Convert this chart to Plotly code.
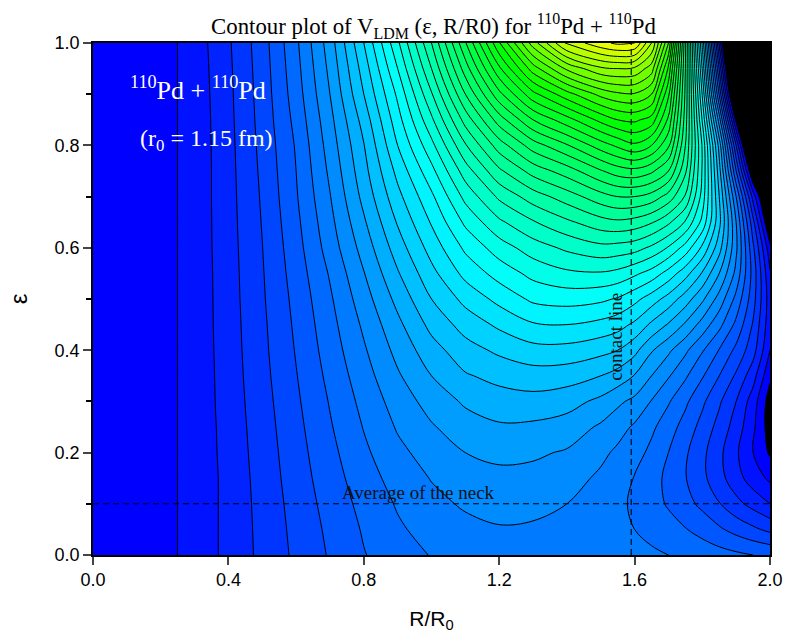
import plotly.graph_objects as go

ratio = [0, .1, .25, .37, .5, .6, .7, .8, .9, 1.0, 1.1, 1.2, 1.3, 1.4, 1.5, 1.55, 1.6, 1.65, 1.7, 1.75, 1.8, 1.85, 1.9, 1.95, 2.0]
epsilon = [0, .05, .1, .15, .2, .25, .3, .35, .4, .45, .5, .55, .6, .65, .7, .75, .8, .85, .9, .95, 1.0]

v_00 = [.2, .4, 1.001, 2.0, 3.25, 4.2, 5.1, 5.95, 6.55, 7.05, 7.3, 7.5, 7.55, 7.45, 7.4, 7.35, 7.3, 7.2, 7.0, 6.8, 6.6, 6.4, 6.2, 6.0, 5.85]
v_05 = [.2, .4, 1.001, 2.0, 3.28, 4.28, 5.22, 6.1, 6.85, 7.38, 7.72, 7.92, 7.85, 7.7, 7.45, 7.25, 7.0, 6.65, 6.35, 6.05, 5.65, 5.15, 4.65, 4.2, 3.75]
v_10 = [.2, .4, 1.001, 2.0, 3.32, 4.38, 5.38, 6.3, 7.1, 7.72, 8.13, 8.35, 8.3, 8.0, 7.55, 7.2, 6.85, 6.35, 5.9, 5.35, 4.75, 4.05, 3.3, 2.65, 2.0]
v_15 = [.2, .4, 1.001, 2.0, 3.38, 4.5, 5.55, 6.55, 7.4, 8.05, 8.52, 8.78, 8.7, 8.45, 7.8, 7.4, 6.95, 6.4, 5.75, 5.05, 4.25, 3.35, 2.4, 1.5, .8]
v_20 = [.2, .4, 1.001, 2.03, 3.45, 4.6, 5.72, 6.8, 7.75, 8.42, 9.0, 9.2, 9.15, 8.9, 8.25, 7.8, 7.4, 6.75, 6.0, 5.15, 4.25, 3.25, 2.15, 1.0, -.15]
v_25 = [.2, .4, 1.001, 2.05, 3.52, 4.71, 5.9, 7.05, 8.1, 8.9, 9.55, 9.87, 9.8, 9.55, 8.85, 8.4, 7.85, 7.2, 6.45, 5.6, 4.65, 3.65, 2.55, 1.2, -.5]
v_30 = [.2, .4, 1.001, 2.08, 3.6, 4.83, 6.07, 7.3, 8.45, 9.4, 10.15, 10.55, 10.65, 10.4, 9.75, 9.2, 8.75, 7.95, 7.1, 6.2, 5.2, 4.15, 3.0, 1.5, -.5]
v_35 = [.2, .4, 1.001, 2.1, 3.68, 4.95, 6.27, 7.58, 8.87, 10.0, 10.9, 11.3, 11.55, 11.45, 11.0, 10.6, 9.95, 9.0, 8.1, 7.15, 6.1, 5.0, 3.85, 2.4, .2]
v_40 = [.2, .4, 1.001, 2.12, 3.75, 5.07, 6.47, 7.87, 9.3, 10.6, 11.6, 12.2, 12.65, 12.65, 12.3, 12.0, 11.3, 10.1, 9.2, 8.2, 7.1, 5.95, 4.75, 3.4, 1.0]
v_45 = [.2, .4, 1.001, 2.14, 3.8, 5.18, 6.65, 8.18, 9.75, 11.3, 12.4, 13.2, 13.9, 14.0, 13.7, 13.4, 12.8, 11.8, 10.9, 9.85, 8.6, 7.3, 5.75, 3.9, 1.35]
v_50 = [.2, .4, 1.001, 2.15, 3.87, 5.3, 6.85, 8.55, 10.3, 12.0, 13.3, 14.3, 15.2, 15.4, 15.2, 14.9, 14.3, 13.5, 12.6, 11.5, 10.2, 8.6, 6.7, 4.4, 1.45]
v_55 = [.2, .4, 1.001, 2.16, 3.92, 5.45, 7.1, 8.95, 10.9, 12.7, 14.3, 15.4, 16.3, 16.8, 16.9, 16.7, 16.2, 15.6, 14.6, 13.4, 11.9, 10.0, 7.7, 4.6, 1.1]
v_60 = [.2, .4, 1.001, 2.18, 3.98, 5.6, 7.45, 9.4, 11.5, 13.4, 15.2, 16.5, 17.5, 18.2, 18.7, 18.6, 18.4, 17.8, 16.9, 15.6, 13.8, 11.4, 8.2, 4.2, .3]
v_65 = [.2, .4, 1.001, 2.19, 4.05, 5.75, 7.7, 9.85, 12.1, 14.1, 16.2, 17.8, 18.9, 19.8, 20.6, 20.8, 20.6, 20.1, 19.2, 17.9, 15.7, 12.3, 8.0, 3.3, -1.5]
v_70 = [.2, .4, 1.001, 2.2, 4.12, 5.9, 7.95, 10.3, 12.7, 14.8, 17.3, 19.2, 20.5, 21.5, 22.6, 23.0, 23.0, 22.6, 21.6, 19.9, 16.6, 12.0, 7.0, 1.6, -3]
v_75 = [.2, .4, 1.001, 2.2, 4.2, 6.0, 8.2, 10.65, 13.3, 15.7, 18.5, 20.8, 22.4, 23.5, 24.9, 25.5, 25.7, 25.2, 24.0, 21.2, 16.9, 11.4, 5.0, -1.5, -6]
v_80 = [.2, .4, 1.001, 2.21, 4.28, 6.1, 8.45, 10.95, 14.0, 16.7, 19.9, 22.5, 24.5, 25.9, 27.5, 28.2, 28.8, 28.0, 26.2, 22.0, 16.9, 10.6, 3.0, -5, -8]
v_85 = [.2, .4, 1.001, 2.23, 4.36, 6.3, 8.7, 11.4, 14.6, 17.8, 21.4, 24.5, 27.0, 28.6, 30.3, 31.0, 31.2, 30.6, 27.8, 22.5, 15.9, 8.5, -.4, -7, -10]
v_90 = [.2, .4, 1.001, 2.26, 4.42, 6.5, 9.0, 12.0, 15.2, 18.9, 23.0, 26.7, 29.7, 31.6, 33.3, 33.8, 33.9, 33.0, 29.2, 22.8, 14.9, 5.9, -4, -10, -12]
v_95 = [.2, .4, 1.001, 2.3, 4.48, 6.65, 9.25, 12.45, 16.0, 20.0, 24.5, 28.8, 32.5, 35.2, 36.8, 37.0, 36.8, 35.5, 30.8, 23.0, 13.9, 3.9, -6.5, -12, -14]
v_100 = [.2, .4, 1.001, 2.35, 4.55, 6.8, 9.5, 13.0, 16.8, 21.0, 25.9, 30.9, 35.5, 39.2, 40.7, 41.2, 41.0, 38.0, 33.0, 23.2, 12.8, 1.8, -9, -14, -16]
potential = [v_00, v_05, v_10, v_15, v_20, v_25, v_30, v_35, v_40, v_45, v_50, v_55, v_60, v_65, v_70, v_75, v_80, v_85, v_90, v_95, v_100]

neck_x = [0, 2.0]
neck_y = [.1, .1]
contact_x = [1.59, 1.59]
contact_y = [0, 1.0]

level_low, level_high = -1, 42
span = level_high - level_low
stops = [(-1, "#000000"), (-.01, "#000000"), (0, "#0000ff"), (15, "#00ffff"), (31, "#00ff00"), (42, "#ffff00")]
scale = [[(v - level_low) / span, c] for v, c in stops]

fig = go.Figure()
fig.add_trace(go.Contour(
    x=ratio, y=epsilon, z=potential,
    zmin=level_low, zmax=level_high,
    autocontour=False,
    contours=dict(start=0, end=41, size=1, coloring="fill", showlines=True),
    line=dict(color="black", width=1, smoothing=1),
    colorscale=scale, showscale=False, hoverinfo="skip",
))
dash = dict(color="black", width=1.1, dash="6px,4px")
fig.add_trace(go.Scatter(x=neck_x, y=neck_y, mode="lines", line=dash, showlegend=False, hoverinfo="skip"))
fig.add_trace(go.Scatter(x=contact_x, y=contact_y, mode="lines", line=dash, showlegend=False, hoverinfo="skip"))

serif = "Liberation Serif"
sans = "Liberation Sans"
fig.add_annotation(x=.963, y=.123, text="Average of the neck", showarrow=False, font=dict(family=serif, size=19, color="#111"))
fig.add_annotation(x=1.545, y=.426, text="contact line", textangle=-90, showarrow=False, font=dict(family=serif, size=19, color="#111"))
fig.add_annotation(x=.31, y=.912, text="<sup>110</sup>Pd + <sup>110</sup>Pd", showarrow=False, font=dict(family=serif, size=26, color="white"))
fig.add_annotation(x=.334, y=.81, text="(r<sub>0</sub> = 1.15 fm)", showarrow=False, font=dict(family=serif, size=24, color="white"))

fig.update_layout(
    width=787, height=633, autosize=False,
    margin=dict(l=93, r=17, t=43, b=78),
    paper_bgcolor="white", plot_bgcolor="white", showlegend=False,
    title=dict(text="Contour plot of V<sub>LDM</sub> (ε, R/R0) for <sup>110</sup>Pd + <sup>110</sup>Pd",
               x=433.5 / 787, xanchor="center", y=1 - 26 / 633, yanchor="middle",
               font=dict(family=serif, size=22.8, color="black")),
    xaxis=dict(range=[0, 2], tickvals=[0, .4, .8, 1.2, 1.6, 2.0], ticktext=["0.0", "0.4", "0.8", "1.2", "1.6", "2.0"],
               automargin=False,
               ticks="outside", ticklen=8, tickwidth=1.5, linewidth=1.5, linecolor="black", mirror=True, showgrid=False,
               zeroline=False, tickfont=dict(family=sans, size=18, color="black"),
               title=dict(text="R/R<sub>0</sub>", font=dict(family=sans, size=21, color="black"), standoff=22)),
    yaxis=dict(range=[0, 1], tickvals=[0, .2, .4, .6, .8, 1.0], ticktext=["0.0", "0.2", "0.4", "0.6", "0.8", "1.0"],
               automargin=False,
               ticks="outside", ticklen=8, tickwidth=1.5, linewidth=1.5, linecolor="black", mirror=True, showgrid=False,
               zeroline=False, tickfont=dict(family=sans, size=18, color="black"),
               minor=dict(tickvals=[.1, .3, .5, .7, .9], ticks="outside", ticklen=5, tickwidth=1.5, tickcolor="black"),
               title=dict(text="ε", font=dict(family=sans, size=24, color="black"), standoff=20)),
)
fig.write_html("out.html", config=dict(displayModeBar=False),
               post_script="document.body.style.margin='0';document.body.style.overflow='hidden';")
